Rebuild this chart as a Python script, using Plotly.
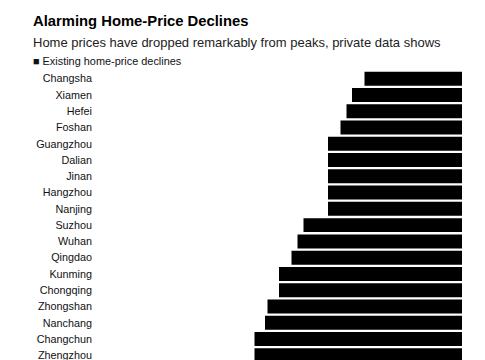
import plotly.graph_objects as go

cities = ["Changsha", "Xiamen", "Hefei", "Foshan", "Guangzhou", "Dalian", "Jinan",
          "Hangzhou", "Nanjing", "Suzhou", "Wuhan", "Qingdao", "Kunming", "Chongqing",
          "Zhongshan", "Nanchang", "Changchun", "Zhengzhou"]
declines = [-19.5, -22.0, -23.1, -24.3, -26.8, -26.8, -26.8, -26.8, -26.8, -31.7,
            -32.9, -34.1, -36.6, -36.6, -38.9, -39.4, -41.5, -41.5]

title = "Alarming Home-Price Declines"
subtitle = "Home prices have dropped remarkably from peaks, private data shows"
legend_label = "Existing home-price declines"

W, H = 485, 360
L, R, T, B = 97, 23, 70, 0
pw, ph = W - L - R, H - T - B

def px(x):
    return (x - L) / pw

def py(y):
    return (H - B - y) / ph

fig = go.Figure(go.Bar(
    x=declines, y=cities, orientation="h",
    marker=dict(color="#000000", line=dict(width=0)),
    showlegend=False,
))

fig.update_layout(
    width=W, height=H,
    margin=dict(l=L, r=R, t=T, b=B, pad=0),
    paper_bgcolor="white", plot_bgcolor="white",
    bargap=0.14,
    font=dict(family="Liberation Sans, Arial, sans-serif", color="#000"),
    xaxis=dict(range=[-pw / 5.0, 0], visible=False, fixedrange=True),
    yaxis=dict(range=[17.29, -0.535], type="category", showgrid=False, zeroline=False,
               showline=False, ticks="", tickfont=dict(size=10.8, color="#111"),
               ticklabelstandoff=4,
               categoryorder="array", categoryarray=cities, fixedrange=True),
    annotations=[
        dict(text="<b>" + title + "</b>", xref="paper", yref="paper", x=px(31), y=py(21),
             xanchor="left", yanchor="middle", showarrow=False,
             font=dict(size=14.8, color="#000")),
        dict(text=subtitle, xref="paper", yref="paper", x=px(31), y=py(42.5),
             xanchor="left", yanchor="middle", showarrow=False,
             font=dict(size=13, color="#222")),
        dict(text="■ " + legend_label, xref="paper", yref="paper", x=px(31), y=py(61),
             xanchor="left", yanchor="middle", showarrow=False,
             font=dict(size=10.9, color="#111")),
    ],
)

fig.write_html("out.html", config={"displayModeBar": False},
               post_script="document.body.style.margin='0';document.body.style.overflow='hidden';")
